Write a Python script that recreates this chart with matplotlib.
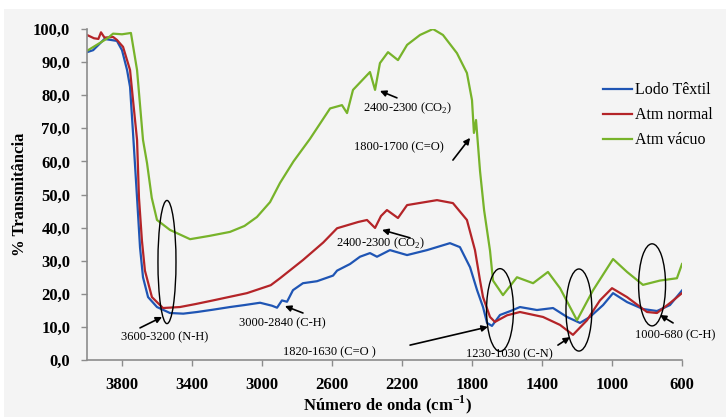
''' FTIR spectra of textile sludge and its pyrolysis products. '''

import matplotlib
matplotlib.use("Agg")
import matplotlib.pyplot as plt
from matplotlib.patches import Ellipse, Rectangle
from matplotlib.ticker import FuncFormatter

# wavenumber (cm-1) / transmittance (%) pairs
LODO_W = [4000, 3965, 3900, 3829, 3800, 3771, 3754, 3737, 3714, 3697, 3680, 3651,
          3600, 3526, 3450, 3371, 3280, 3183, 3100, 3011, 2943, 2914, 2886, 2857,
          2823, 2766, 2686, 2594, 2571, 2497, 2440, 2383, 2343, 2269, 2171, 2057,
          1926, 1869, 1811, 1771, 1737, 1714, 1686, 1640, 1580, 1526, 1429, 1337,
          1257, 1183, 1126, 1051, 994, 914, 823, 743, 669, 600]
LODO_T = [93.0, 93.6, 97.0, 96.4, 93.6, 87.6, 82.5, 68.6, 49.0, 34.0, 25.0, 19.0,
          16.0, 14.2, 14.0, 14.5, 15.2, 16.0, 16.6, 17.3, 16.4, 15.8, 18.0, 17.6,
          21.1, 23.2, 23.8, 25.5, 27.0, 29.0, 31.2, 32.3, 31.2, 33.2, 31.7, 33.2,
          35.3, 34.1, 28.0, 21.1, 16.0, 11.2, 10.3, 13.6, 14.8, 16.0, 15.1, 15.7,
          13.0, 11.2, 13.0, 16.6, 20.2, 17.5, 15.4, 14.8, 16.6, 21.0]

NORMAL_W = [4000, 3960, 3935, 3920, 3900, 3851, 3829, 3794, 3754, 3737, 3714, 3703,
            3686, 3669, 3629, 3566, 3469, 3380, 3280, 3086, 2950, 2897, 2766, 2650,
            2571, 2450, 2400, 2354, 2320, 2286, 2223, 2171, 2080, 2000, 1909, 1829,
            1783, 1754, 1737, 1697, 1669, 1600, 1526, 1394, 1297, 1223, 1143, 1069,
            1000, 914, 800, 743, 669, 600]
NORMAL_T = [98.2, 97.2, 97.0, 99.0, 97.4, 97.6, 96.7, 94.6, 87.6, 78.5, 66.5, 49.0,
            36.0, 27.0, 19.0, 15.7, 16.0, 16.9, 18.0, 20.2, 22.6, 24.7, 30.2, 35.5,
            39.8, 41.7, 42.3, 39.9, 43.5, 45.3, 42.9, 46.8, 47.6, 48.3, 47.4, 42.3,
            33.2, 24.0, 19.0, 13.0, 11.5, 13.5, 14.5, 13.0, 10.6, 7.6, 12.0, 18.0,
            21.7, 19.0, 14.5, 14.2, 17.2, 20.2]

VACUO_W = [4000, 3926, 3880, 3851, 3800, 3749, 3714, 3680, 3657, 3630, 3600, 3526,
           3411, 3300, 3183, 3100, 3029, 2954, 2897, 2820, 2726, 2611, 2543, 2514,
           2480, 2383, 2354, 2326, 2280, 2223, 2171, 2097, 2023, 1966, 1886, 1829,
           1800, 1789, 1777, 1754, 1731, 1697, 1680, 1623, 1543, 1451, 1366, 1297,
           1200, 1109, 994, 914, 823, 726, 629, 600]
VACUO_T = [93.4, 95.8, 97.3, 98.6, 98.4, 98.8, 87.6, 66.5, 59.5, 49.0, 42.3, 39.3,
           36.5, 37.5, 38.7, 40.5, 43.2, 47.7, 53.5, 60.0, 66.8, 76.0, 77.0, 74.6,
           81.6, 87.0, 81.6, 89.7, 93.0, 90.6, 95.2, 98.2, 100.0, 98.2, 92.7, 86.7,
           78.5, 68.6, 72.5, 57.0, 45.3, 33.0, 24.0, 19.6, 25.0, 23.2, 26.6, 21.7,
           12.0, 21.0, 30.5, 26.6, 22.7, 24.0, 24.7, 29.0]

SERIES = [("Lodo Têxtil", LODO_W, LODO_T, "#1f55b4"),
          ("Atm normal", NORMAL_W, NORMAL_T, "#b42428"),
          ("Atm vácuo", VACUO_W, VACUO_T, "#77b32a")]

X_TICKS = [3800, 3400, 3000, 2600, 2200, 1800, 1400, 1000, 600]
Y_TICKS = [0, 10, 20, 30, 40, 50, 60, 70, 80, 90, 100]

# band marks: (text, text position, arrow tail, arrow head), all in (cm-1, %T)
BANDS = [
    ("3600-3200 (N-H)", (3554, 6.9), (3697, 9.7), (3571, 13.0)),
    ("3000-2840 (C-H)", (2886, 11.2), (2766, 14.2), (2869, 16.3)),
    ("1820-1630 (C=O )", (2617, 2.4), (2154, 4.5), (1709, 10.0)),
    ("1230-1030 (C-N)", (1589, 1.8), (1309, 4.5), (1240, 6.9)),
    ("1000-680 (C-H)", (640, 7.6), (651, 11.2), (726, 13.6)),
    ("2400-2300 (CO$_2$)", (2320, 35.3), (2154, 36.9), (2314, 39.3)),
    ("2400-2300 (CO$_2$)", (2166, 76.1), (2229, 79.2), (2326, 81.3)),
    ("1800-1700 (C=O)", (2217, 64.4), (1909, 60.4), (1811, 67.1)),
]

# circled regions: (centre cm-1, centre %T, width cm-1, height %T)
RINGS = [(3543, 29.6, 103, 37.2),
         (1640, 15.1, 154, 25.0),
         (1189, 15.1, 148, 24.8),
         (771, 22.7, 154, 24.8)]

BG = "#f4f4f4"


def main():
    '''Main'''
    plt.rcParams['font.family'] = ['Liberation Serif', 'DejaVu Serif']
    plt.rcParams['mathtext.fontset'] = 'custom'
    plt.rcParams['mathtext.rm'] = 'Liberation Serif'
    plt.rcParams['mathtext.bf'] = 'Liberation Serif:bold'

    fig = plt.figure(figsize=(7.26, 4.17), dpi=100, facecolor=BG)
    ax = fig.add_axes([87/726, 1-360/417, 595/726, 331/417])
    ax.set_facecolor(BG)

    # white margins of the page around the chart
    fig.patches.append(Rectangle((0, 1-9/417), 1, 9/417, transform=fig.transFigure,
                                 facecolor="white", edgecolor="none", zorder=-1))
    fig.patches.append(Rectangle((0, 0), 4/726, 1, transform=fig.transFigure,
                                 facecolor="white", edgecolor="none", zorder=-1))

    for name, w, t, col in SERIES:
        ax.plot(w, t, color=col, linewidth=1.6, label=name)

    for cx, cy, ew, eh in RINGS:
        ax.add_patch(Ellipse((cx, cy), ew, eh, fill=False, edgecolor="black",
                             linewidth=1.0, zorder=5))

    for txt, pos, tail, head in BANDS:
        ax.annotate("", xy=head, xytext=tail,
                    arrowprops=dict(arrowstyle="-|>", color="black", lw=1.2,
                                    mutation_scale=9, shrinkA=0, shrinkB=0))
        ax.text(pos[0], pos[1], txt, fontsize=9, ha="center", va="center")

    ax.set_xlim(4000, 600)
    ax.set_ylim(0, 100)
    ax.set_xticks(X_TICKS)
    ax.set_yticks(Y_TICKS)
    ax.yaxis.set_major_formatter(FuncFormatter(lambda v, p: f"{v:.1f}".replace(".", ",")))

    for side in ("top", "right"):
        ax.spines[side].set_visible(False)
    for side in ("left", "bottom"):
        ax.spines[side].set_color("#8c8c8c")
        ax.spines[side].set_linewidth(1.2)
    ax.tick_params(axis="both", direction="out", length=4, width=1,
                   color="#8c8c8c", labelsize=12)
    ax.tick_params(axis="y", pad=8)
    ax.tick_params(axis="x", pad=8)
    for lab in ax.get_xticklabels() + ax.get_yticklabels():
        lab.set_fontweight("bold")

    ax.set_xlabel("Número de onda (cm$^{\\mathbf{-1}}$)", fontsize=12, fontweight="bold")
    ax.set_ylabel("% Transmitância", fontsize=12, fontweight="bold")
    ax.xaxis.label.set_va("center")
    ax.yaxis.label.set_va("center")
    ax.xaxis.set_label_coords((388-87)/595, -(405-360)/331)
    ax.yaxis.set_label_coords(-(87-20)/595, 0.5)

    ax.legend(loc="upper left", bbox_to_anchor=(510/595, (360-76)/331), frameon=False,
              fontsize=11.5, handlelength=1.8, handletextpad=0.2, labelspacing=0.56,
              borderaxespad=0)

    fig.savefig("out.png", dpi=100, facecolor=BG)


if __name__ == "__main__":
    main()
